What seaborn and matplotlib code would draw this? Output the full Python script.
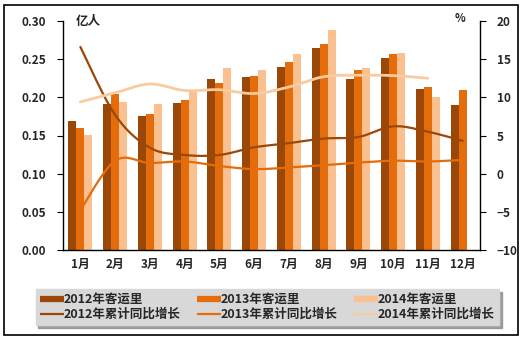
import numpy as np
import pandas as pd
import matplotlib
matplotlib.use("Agg")
import matplotlib.pyplot as plt
import seaborn as sns
from matplotlib.lines import Line2D
from matplotlib.patches import Rectangle

months = ["1月", "2月", "3月", "4月", "5月", "6月", "7月", "8月", "9月", "10月", "11月", "12月"]
vol_2012 = [0.169, 0.191, 0.176, 0.193, 0.224, 0.227, 0.240, 0.265, 0.224, 0.252, 0.211, 0.190]
vol_2013 = [0.160, 0.205, 0.178, 0.197, 0.219, 0.228, 0.246, 0.270, 0.236, 0.257, 0.214, 0.210]
vol_2014 = [0.151, 0.194, 0.191, 0.210, 0.239, 0.236, 0.257, 0.288, 0.238, 0.258, 0.200, np.nan]
growth_2012 = [16.6, 7.7, 3.4, 2.45, 2.45, 3.45, 4.0, 4.6, 4.8, 6.2, 5.5, 4.3]
growth_2013 = [-4.8, 1.7, 1.4, 1.6, 1.0, 0.6, 0.8, 1.1, 1.45, 1.7, 1.6, 1.8]
growth_2014 = [9.4, 10.6, 11.75, 10.9, 11.0, 10.5, 11.35, 12.7, 12.9, 12.85, 12.5]
bar_labels = ["2012年客运里", "2013年客运里", "2014年客运里"]
line_labels = ["2012年累计同比增长", "2013年累计同比增长", "2014年累计同比增长"]
left_ticks = [0.00, 0.05, 0.10, 0.15, 0.20, 0.25, 0.30]
right_ticks = [-10, -5, 0, 5, 10, 15, 20]

bar_colors = ["#9A4708", "#E46C0A", "#FAC08F"]
line_colors = ["#9A4708", "#E46C0A", "#F9CBA0"]

sns.set_style("white")
plt.rcParams["font.family"] = ["Noto Sans CJK SC", "DejaVu Sans"]
plt.rcParams["font.weight"] = "bold"

df = pd.DataFrame({
    "month": months * 3,
    "year": [bar_labels[0]] * 12 + [bar_labels[1]] * 12 + [bar_labels[2]] * 12,
    "value": vol_2012 + vol_2013 + vol_2014,
})

fig = plt.figure(figsize=(5.22, 3.42), dpi=100)
fig.patch.set_facecolor("white")
ax = fig.add_axes([63 / 522, 1 - 250 / 342, (480 - 63) / 522, (250 - 21) / 342])

sns.barplot(data=df, x="month", y="value", hue="year", palette=bar_colors,
            width=0.69, ax=ax, legend=False, saturation=1, errorbar=None,
            linewidth=0, edgecolor="none")
ax.set_ylim(0, 0.30)
ax.set_xlim(-0.5, 11.5)
ax.set_yticks(left_ticks)
ax.set_yticklabels([f"{t:.2f}" for t in left_ticks])
ax.set_xlabel("")
ax.set_ylabel("")
for s in ["top", "right"]:
    ax.spines[s].set_visible(False)
for s in ["left", "bottom"]:
    ax.spines[s].set_color("black")
    ax.spines[s].set_linewidth(1.0)
ax.set_xticks(range(12))
ax.set_xticklabels(months)
ax.set_xticks(np.arange(-0.5, 12, 1), minor=True)
ax.tick_params(axis="x", which="major", length=0, pad=6, labelsize=8.5)
ax.tick_params(axis="x", which="minor", length=4, direction="out", color="black", width=1)
ax.tick_params(axis="y", length=4, direction="out", color="black", labelsize=8.5, pad=8, left=True)
ax.text(0.03, 1.0, "亿人", transform=ax.transAxes, fontsize=9, fontweight="bold", va="center", ha="left")

ax2 = ax.twinx()
ax2.set_ylim(-10, 20)
ax2.set_yticks(right_ticks)
for s in ["top", "left", "bottom"]:
    ax2.spines[s].set_visible(False)
ax2.spines["right"].set_color("black")
ax2.spines["right"].set_linewidth(1.0)
ax2.tick_params(axis="y", length=4, direction="out", color="black", labelsize=8.5, pad=8, right=True)
ax2.text(0.965, 1.01, "%", transform=ax2.transAxes, fontsize=8, fontweight="bold", va="center", ha="right")


def smooth(vals, n=20):
    p = np.array(vals, dtype=float)
    x = np.arange(len(p), dtype=float)
    P = np.column_stack([x, p])
    P = np.vstack([P[0], P, P[-1]])
    out = []
    for i in range(1, len(P) - 2):
        p0, p1, p2, p3 = P[i - 1], P[i], P[i + 1], P[i + 2]
        c1 = p1 + (p2 - p0) / 6
        c2 = p2 - (p3 - p1) / 6
        t = np.linspace(0, 1, n)[:, None]
        seg = ((1 - t) ** 3) * p1 + 3 * ((1 - t) ** 2) * t * c1 + 3 * (1 - t) * t ** 2 * c2 + t ** 3 * p2
        out.append(seg if i == 1 else seg[1:])
    out = np.vstack(out)
    return out[:, 0], out[:, 1]


for vals, col, lw in zip([growth_2012, growth_2013, growth_2014], line_colors, [1.6, 1.6, 2.0]):
    xs, ys = smooth(vals)
    sns.lineplot(x=xs, y=ys, ax=ax2, color=col, linewidth=lw, sort=False, estimator=None)

# legend
handles = []
labels = []
for i in range(3):
    handles.append(Line2D([0], [0], color=bar_colors[i], linewidth=4.5, solid_capstyle="butt"))
    labels.append(bar_labels[i])
    handles.append(Line2D([0], [0], color=line_colors[i], linewidth=1.6, solid_capstyle="butt"))
    labels.append(line_labels[i])
leg = fig.legend(handles, labels, ncol=3, loc="center", bbox_to_anchor=(0.512, 0.102),
                 frameon=True, fancybox=False, shadow={"color": "#8a8a8a", "alpha": 0.8},
                 facecolor="#D8D8D8", edgecolor="#D8D8D8", fontsize=9,
                 handlelength=1.9, handletextpad=0.0, columnspacing=1.3,
                 labelspacing=0.15, borderpad=0.35, prop={"weight": "bold", "size": 9})

fig.patches.append(Rectangle((4 / 522, 1 - 335 / 342), 514 / 522, 330 / 342,
                             transform=fig.transFigure, fill=False, edgecolor="black", linewidth=1.2))

fig.savefig("out.png", dpi=100)
